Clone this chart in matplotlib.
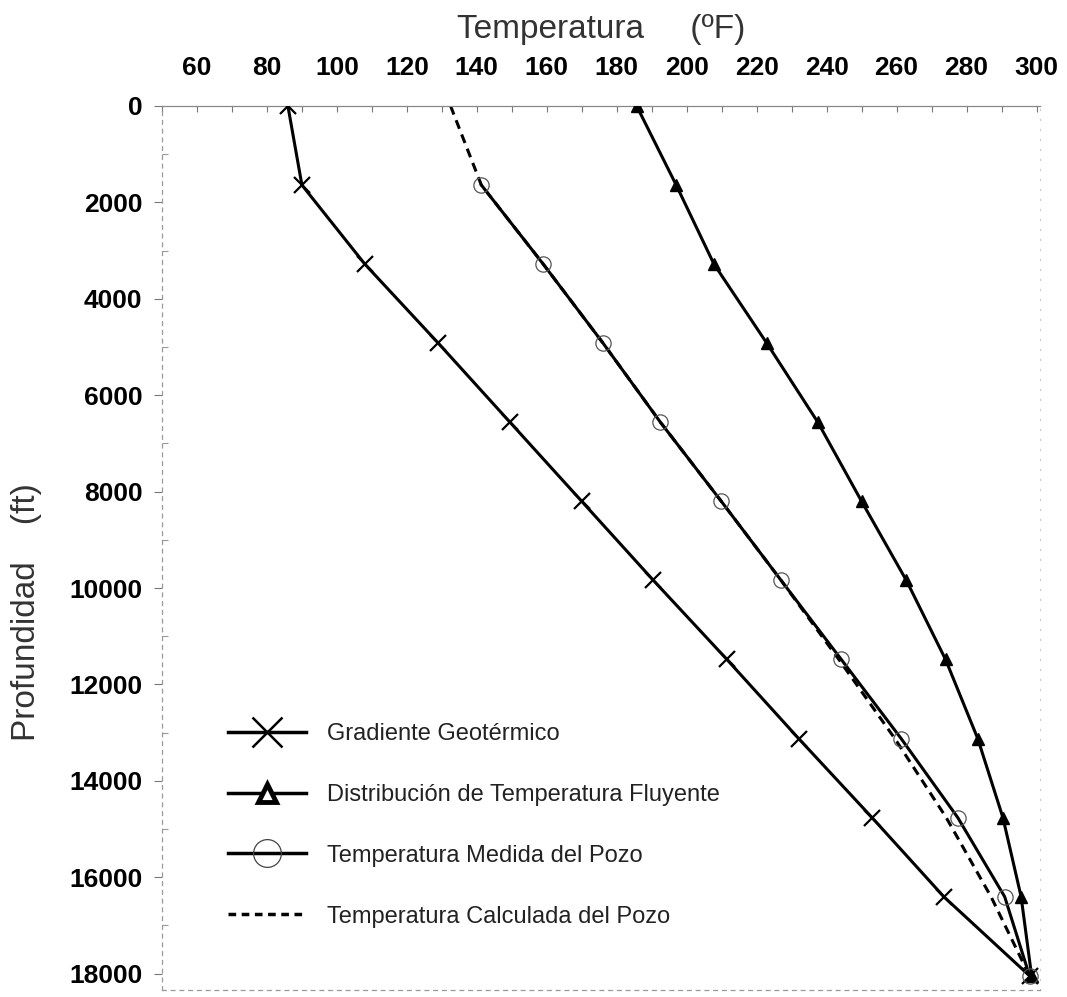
import numpy as np
import matplotlib
matplotlib.use("Agg")
import matplotlib.pyplot as plt
from matplotlib.lines import Line2D
from matplotlib.ticker import MultipleLocator

plt.rcParams['font.family'] = ['Liberation Sans', 'DejaVu Sans']

# profundidad de cada estacion (cada 500 m), en pies
depth_ft = [0, 1640, 3281, 4921, 6562, 8202, 9843, 11483, 13123, 14764, 16404, 18045]

# temperaturas en grados F
geo_T = [86, 90, 108, 129, 149.5, 170, 190.5, 211.5, 232, 253, 273.5, 298]
flow_T = [185.7, 197, 207.8, 222.9, 237.5, 250, 262.8, 274, 283.2, 290.4, 295.6, 298.6]
meas_depth = [1640, 3281, 4921, 6562, 8202, 9843, 11483, 13123, 14764, 16404, 18045]
meas_T = [141.3, 159, 176.1, 192.5, 209.9, 227, 244.2, 261.3, 277.5, 290.9, 298]
calc_T = [132.5, 141.3, 159, 176.1, 192.5, 209.9, 227, 243.5, 259.5, 274.2, 287, 298]

labels = ["Gradiente Geotérmico",
          "Distribución de Temperatura Fluyente",
          "Temperatura Medida del Pozo",
          "Temperatura Calculada del Pozo"]


def plot_data(ax):
    ax.plot(calc_T, depth_ft, color='black', lw=2.2, ls=(0, (3, 2)), zorder=2)
    ax.plot(geo_T, depth_ft, color='black', lw=2.2, marker='x', ms=12, mew=1.6, zorder=3)
    ax.plot(flow_T, depth_ft, color='black', lw=2.2, marker='^', ms=9, zorder=3)
    ax.plot(meas_T, meas_depth, color='black', lw=2.2, marker='o', ms=11,
            mfc='none', mec='#555555', mew=0.9, zorder=4)


def style_axes(ax):
    ax.set_xlim(50, 301)
    ax.set_ylim(18340, 0)
    ax.xaxis.tick_top()
    ax.xaxis.set_label_position('top')
    ax.xaxis.set_minor_locator(MultipleLocator(10))
    ax.set_xticks(np.arange(60, 301, 20))
    ax.yaxis.set_major_locator(MultipleLocator(2000))
    ax.yaxis.set_minor_locator(MultipleLocator(1000))

    ax.tick_params(axis='x', which='both', direction='in', length=4, width=0.8,
                   color='#777777', pad=19, labelsize=19)
    ax.tick_params(axis='y', which='major', direction='out', length=6, width=0.8,
                   color='#777777', pad=8, labelsize=19)
    ax.tick_params(axis='y', which='minor', direction='in', length=4, width=0.8,
                   color='#999999')
    for lab in ax.get_xticklabels() + ax.get_yticklabels():
        lab.set_fontweight('bold')

    ax.spines['top'].set_color('#888888')
    ax.spines['top'].set_linewidth(0.9)
    for side in ['left', 'bottom']:
        ax.spines[side].set_color('#999999')
        ax.spines[side].set_linewidth(0.9)
        ax.spines[side].set_linestyle((0, (3, 4)))
    ax.spines['right'].set_color('#cccccc')
    ax.spines['right'].set_linewidth(0.8)
    ax.spines['right'].set_linestyle((0, (1, 8)))

    ax.set_xlabel("Temperatura     (ºF)", fontsize=24, color='#333333', labelpad=13)
    ax.set_ylabel("Profundidad    (ft)", fontsize=24, color='#333333')
    ax.yaxis.set_label_coords(-0.137, 0.428)


def add_legend(fig, ax):
    handles = [
        Line2D([], [], color='black', lw=2.5, marker='x', ms=22, mew=1.8),
        Line2D([], [], color='black', lw=2.5, marker='^', ms=13, mfc='white', mec='black', mew=3.5),
        Line2D([], [], color='black', lw=2.5, marker='o', ms=20, mfc='none', mec='#444444', mew=0.9),
        Line2D([], [], color='black', lw=2.5, ls=(0, (2.2, 1.6))),
    ]
    leg = ax.legend(handles, labels, loc='upper left', bbox_to_anchor=(0.2137, 0.275),
                    bbox_transform=fig.transFigure, frameon=False, fontsize=17,
                    handlelength=3.3, handletextpad=0.9, labelspacing=1.65,
                    borderpad=0, borderaxespad=0)
    for t in leg.get_texts():
        t.set_color('#222222')


def main():
    fig = plt.figure(figsize=(10.67, 9.97), dpi=100)
    ax = fig.add_axes([0.1518, 0.007, 0.8229, 0.8867])
    plot_data(ax)
    style_axes(ax)
    add_legend(fig, ax)
    fig.savefig("out.png", dpi=100)
    plt.close(fig)


if __name__ == "__main__":
    main()
